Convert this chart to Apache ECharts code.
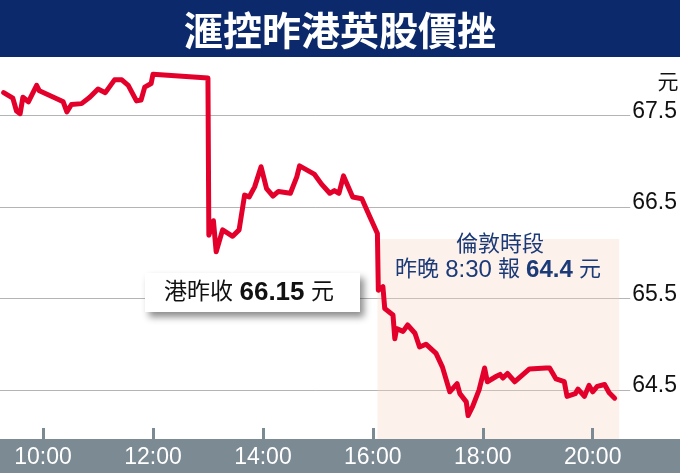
<!DOCTYPE html>
<html>
<head>
<meta charset="utf-8">
<script src="https://cdn.jsdelivr.net/npm/echarts@6.0.0/dist/echarts.min.js"></script>
<style>
  body { margin: 0; background: #fff; }
  #chart { width: 680px; height: 473px; }
</style>
</head>
<body>
<div id="chart"></div>
<script>
// 滙控 港股 + 倫敦 分時價
var times = ['09:17','09:27','09:31','09:35','09:38','09:44','09:53','09:56','10:18','10:22',
             '10:26','10:31','10:42','10:51','11:00','11:08','11:18','11:26','11:33','11:42',
             '11:47','11:51','11:58','12:00','13:00','13:01','13:06','13:09','13:16','13:27',
             '13:34','13:40','13:45','13:51','13:58','14:04','14:11','14:17','14:30','14:37',
             '14:40','14:56','15:04','15:13','15:18','15:23','15:28','15:38','15:48','15:56',
             '16:05','16:06','16:11','16:13','16:22','16:24','16:26','16:33','16:38','16:46',
             '16:51','16:58','17:09','17:16','17:24','17:32','17:35','17:42','17:44','17:49',
             '17:56','18:02','18:05','18:15','18:19','18:22','18:27','18:35','18:51','19:09',
             '19:13','19:20','19:29','19:32','19:41','19:44','19:51','19:56','20:00','20:05',
             '20:13','20:18','20:24'];
var prices = [67.75,67.69,67.55,67.52,67.70,67.65,67.83,67.77,67.67,67.65,
              67.54,67.62,67.63,67.70,67.79,67.75,67.89,67.89,67.83,67.66,
              67.67,67.81,67.85,67.95,67.91,66.19,66.35,66.01,66.25,66.18,
              66.25,66.63,66.61,66.72,66.94,66.70,66.62,66.67,66.65,66.83,
              66.95,66.86,66.75,66.65,66.68,66.65,66.84,66.61,66.59,66.41,
              66.21,65.59,65.63,65.39,65.32,65.06,65.17,65.14,65.21,65.12,
              64.97,65.00,64.90,64.75,64.48,64.57,64.46,64.37,64.22,64.32,
              64.50,64.74,64.59,64.65,64.67,64.63,64.68,64.59,64.73,64.74,
              64.74,64.62,64.59,64.43,64.46,64.51,64.43,64.55,64.48,64.54,
              64.56,64.47,64.41];
var xTicks = ['10:00','12:00','14:00','16:00','18:00','20:00'];
var yTicks = [64.5, 65.5, 66.5, 67.5];
var londonSession = ['16:05', '20:29'];

function toMin(s) {
    var p = s.split(':');
    return (+p[0]) * 60 + (+p[1]);
}
function fmtTime(m) {
    var h = Math.floor(m / 60), mm = m % 60;
    return h + ':' + (mm < 10 ? '0' : '') + mm;
}

var numFont = "'Liberation Sans', Arial, sans-serif";
var cjkFont = "'Liberation Sans', 'Noto Sans CJK TC', sans-serif";
var barGray = '#7c8a94';
var navy = '#1b3a78';

var myChart = echarts.init(document.getElementById('chart'));
myChart.setOption({
    animation: false,
    grid: { left: 0, right: 48, top: 62, bottom: 34 },
    xAxis: {
        type: 'value',
        min: 553,
        max: 1241,
        z: 10,
        axisLine: { show: false },
        splitLine: { show: false },
        axisTick: {
            inside: true,
            length: 11,
            customValues: xTicks.map(toMin),
            lineStyle: { color: barGray, width: 3 }
        },
        axisLabel: {
            customValues: xTicks.map(toMin),
            formatter: fmtTime,
            color: '#fff',
            fontSize: 23,
            fontFamily: numFont,
            margin: 7
        }
    },
    yAxis: {
        type: 'value',
        position: 'right',
        min: 63.964,
        max: 68.085,
        axisLine: { show: false },
        axisTick: { show: false, customValues: yTicks },
        axisLabel: {
            customValues: yTicks,
            formatter: function (v) { return v.toFixed(1); },
            color: '#111',
            fontSize: 23,
            fontFamily: numFont,
            margin: 2,
            verticalAlign: 'bottom',
            lineHeight: 8
        },
        splitLine: { show: true, lineStyle: { color: '#b4b4b4', width: 1 } }
    },
    series: [{
        type: 'line',
        data: times.map(function (t, i) { return [toMin(t), prices[i]]; }),
        showSymbol: false,
        symbol: 'none',
        lineStyle: { color: '#e3002b', width: 5, cap: 'round', join: 'round' },
        markArea: {
            silent: true,
            itemStyle: { color: 'rgba(248,214,198,0.33)' },
            data: [[
                { xAxis: toMin(londonSession[0]), yAxis: 66.15 },
                { xAxis: toMin(londonSession[1]), yAxis: 63.964 }
            ]]
        }
    }],
    graphic: [
        { type: 'rect', z: -1, shape: { x: 0, y: 0, width: 680, height: 57 }, style: { fill: '#0c2a6b' } },
        { type: 'rect', z: -1, shape: { x: 0, y: 439, width: 680, height: 34 }, style: { fill: barGray } },
        {
            type: 'text', z: 20, x: 340, y: 30,
            style: {
                text: '滙控昨港英股價挫', fill: '#fff', align: 'center', verticalAlign: 'middle',
                font: "bold 39px 'Noto Sans CJK TC', sans-serif"
            }
        },
        {
            type: 'text', z: 20, x: 668, y: 81,
            style: { text: '元', fill: '#111', align: 'center', verticalAlign: 'middle',
                     font: "21px 'Noto Sans CJK TC', sans-serif" }
        },
        {
            type: 'rect', z: 15, shape: { x: 145, y: 273, width: 215, height: 39 },
            style: { fill: '#fff', shadowBlur: 7, shadowOffsetX: 4, shadowOffsetY: 5, shadowColor: 'rgba(0,0,0,0.45)' }
        },
        {
            type: 'text', z: 20, x: 249, y: 293,
            style: {
                text: '{a|港昨收 }{b|66.15}{a| 元}', align: 'center', verticalAlign: 'middle', fill: '#111',
                rich: {
                    a: { fontSize: 23, fontFamily: cjkFont, fill: '#111' },
                    b: { fontSize: 26, fontWeight: 'bold', fontFamily: numFont, fill: '#111' }
                }
            }
        },
        {
            type: 'text', z: 20, x: 500, y: 243,
            style: { text: '倫敦時段', fill: navy, align: 'center', verticalAlign: 'middle',
                     font: "22px 'Noto Sans CJK TC', sans-serif" }
        },
        {
            type: 'text', z: 20, x: 498, y: 270,
            style: {
                text: '{a|昨晚 }{n|8:30}{a| 報 }{b|64.4}{a| 元}', align: 'center', verticalAlign: 'middle', fill: navy,
                rich: {
                    a: { fontSize: 22, fontFamily: cjkFont, fill: navy },
                    n: { fontSize: 24, fontFamily: numFont, fill: navy },
                    b: { fontSize: 24, fontWeight: 'bold', fontFamily: numFont, fill: navy }
                }
            }
        }
    ]
});
</script>
</body>
</html>
